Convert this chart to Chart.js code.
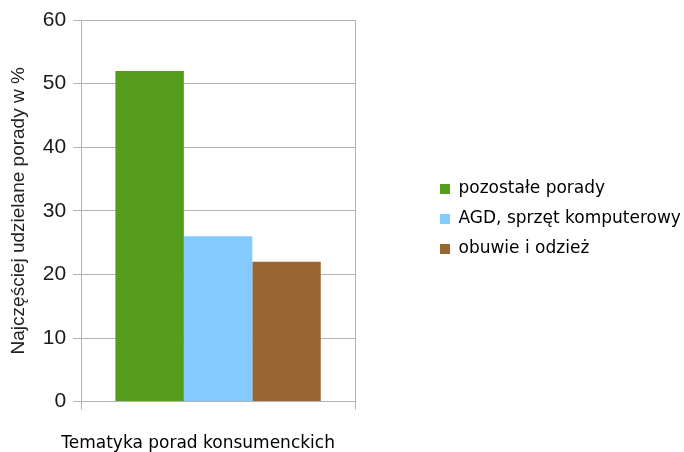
<!DOCTYPE html>
<html>
<head>
<meta charset="utf-8">
<script src="https://cdn.jsdelivr.net/npm/chart.js@4.4.1/dist/chart.umd.min.js"></script>
<style>
	body { margin: 0; background: #fff; }
</style>
</head>
<body>
<canvas id="myChart" width="684" height="452"></canvas>
<script>
var categories = ['']
var seriesNames = ['pozostałe porady', 'AGD, sprzęt komputerowy', 'obuwie i odzież']
var seriesValues = [52, 26, 22]
var seriesColors = ['#579d1c', '#83caff', '#996633']
var yTicks = [0, 10, 20, 30, 40, 50, 60]

var gridColor = '#b3b3b3'

// push the legend to the right, and the x title a bit to the left
var layoutTweaks = {
	id: 'layoutTweaks',
	afterLayout: function(chart) {
		var lg = chart.legend
		lg.left = 427
		lg.right = 700
		lg.top -= 17
		lg.bottom -= 17

		var sx = chart.scales.x
		if (!sx._titleShifted) {
			var drawTitle = sx.drawTitle
			sx.drawTitle = function() {
				var l = this.left
				this.left -= 40
				drawTitle.call(this)
				this.left = l
			}
			sx._titleShifted = true
		}
	}
}

var ctx = document.getElementById('myChart')
var data = {
	labels: categories,
	datasets: seriesNames.map(function(name, i) {
		return {
			label: name,
			data: [seriesValues[i]],
			backgroundColor: seriesColors[i],
			borderWidth: 0,
			barPercentage: 1,
			categoryPercentage: 0.75,
		}
	})
}

var barChart = new Chart(ctx, {
	type: 'bar',
	data: data,
	plugins: [layoutTweaks],
	options: {
		responsive: false,
		animation: false,
		layout: { padding: { left: 3, top: 20, right: 75, bottom: 0 } },
		plugins: {
			tooltip: { enabled: false },
			legend: {
				position: 'right',
				maxWidth: 254,
				labels: {
					boxWidth: 10,
					boxHeight: 10,
					padding: 13,
					color: '#000',
					font: { family: 'DejaVu Sans', size: 17 },
				}
			}
		},
		scales: {
			x: {
				grid: { color: gridColor, tickLength: 8, offset: true },
				border: { color: gridColor },
				ticks: { display: false },
				title: {
					display: true,
					text: 'Tematyka porad konsumenckich',
					color: '#000',
					font: { family: 'DejaVu Sans', size: 17 },
					padding: { top: 24, bottom: -2 },
				}
			},
			y: {
				min: 0,
				max: 60,
				afterBuildTicks: function(scale) {
					scale.ticks = yTicks.map(function(v) { return { value: v } })
				},
				grid: { color: gridColor, tickLength: 8 },
				border: { color: gridColor },
				ticks: {
					color: '#1a1a1a',
					padding: 7,
					font: { family: 'Liberation Sans', size: 21 },
				},
				title: {
					display: true,
					text: 'Najczęściej udzielane porady w %',
					color: '#222',
					font: { family: 'Liberation Sans', size: 19 },
					padding: { top: 4, bottom: 6 },
				}
			}
		}
	}
})
</script>
</body>
</html>
